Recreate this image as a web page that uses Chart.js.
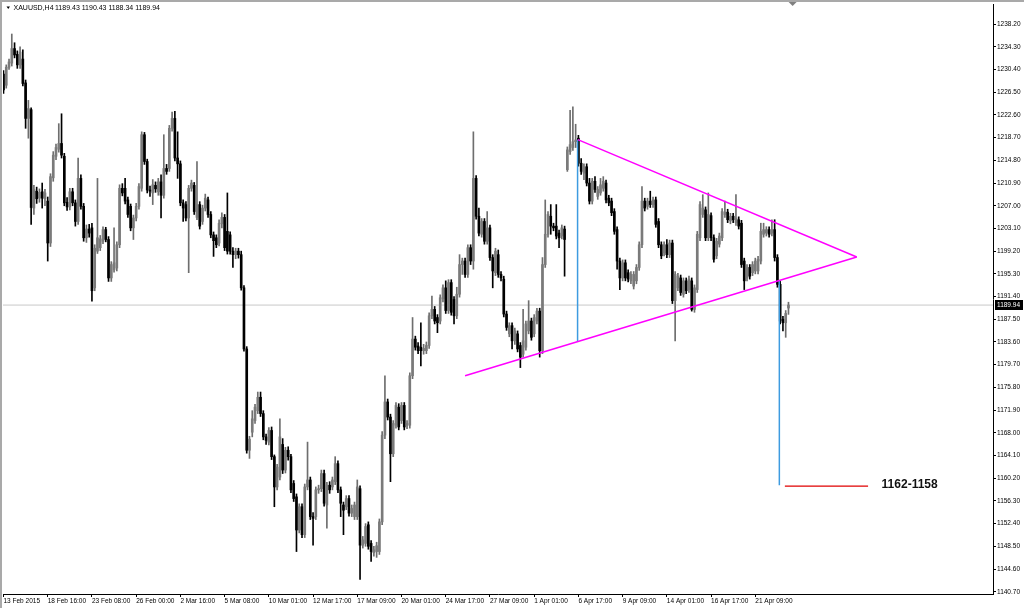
<!DOCTYPE html>
<html>
<head>
<meta charset="utf-8">
<style>
  html, body { margin: 0; padding: 0; background: #fff; overflow: hidden; }
  canvas { display: block; }
</style>
<script src="https://cdn.jsdelivr.net/npm/chart.js@4.4.1/dist/chart.umd.min.js"></script>
</head>
<body>
<canvas id="chart" width="1024" height="608"></canvas>
<script>
// XAUUSD H4 candles (bar 0 = 13 Feb 2015)
const symbol = 'XAUUSD,H4';

const opens = [
  1229.6, 1227.7, 1230.8, 1231.5, 1234.0, 1233.0, 1231.2, 1232.2, 1228.1, 1222.0,
  1223.5, 1206.6, 1209.5, 1208.3, 1209.4, 1208.2, 1207.8, 1200.6, 1211.8, 1215.5,
  1216.7, 1217.7, 1215.5, 1207.6, 1206.8, 1209.4, 1207.5, 1204.3, 1211.7, 1206.9,
  1201.5, 1203.0, 1203.2, 1192.9, 1199.2, 1199.8, 1200.9, 1202.9, 1201.2, 1194.6,
  1196.0, 1196.3, 1200.3, 1210.0, 1210.0, 1208.0, 1206.9, 1203.2, 1204.9, 1206.9,
  1210.0, 1219.2, 1214.6, 1209.7, 1209.2, 1210.5, 1209.4, 1211.1, 1208.8, 1213.4,
  1213.4, 1220.3, 1222.0, 1215.2, 1214.2, 1207.5, 1207.2, 1204.9, 1210.0, 1210.5,
  1205.0, 1207.2, 1204.3, 1206.6, 1208.0, 1205.5, 1202.0, 1201.5, 1200.6, 1203.9,
  1205.0, 1202.6, 1202.0, 1199.2, 1198.6, 1199.2, 1198.6, 1192.9, 1182.4, 1165.0,
  1168.1, 1170.1, 1171.8, 1174.1, 1171.3, 1167.3, 1166.4, 1168.4, 1163.9, 1158.7,
  1160.4, 1166.0, 1161.6, 1165.0, 1163.9, 1159.3, 1157.0, 1151.3, 1155.3, 1150.5,
  1158.7, 1159.9, 1153.6, 1153.6, 1158.2, 1158.4, 1161.0, 1155.6, 1159.0, 1158.7,
  1159.6, 1162.7, 1158.2, 1155.6, 1155.3, 1156.7, 1154.2, 1153.6, 1153.6, 1158.4,
  1148.7, 1149.0, 1152.2, 1149.0, 1147.4, 1147.6, 1147.6, 1152.7, 1167.6, 1173.3,
  1170.7, 1164.4, 1169.3, 1172.4, 1170.1, 1172.7, 1169.3, 1169.3, 1177.8, 1184.1,
  1182.9, 1182.7, 1182.1, 1182.1, 1183.0, 1188.1, 1189.2, 1187.8, 1187.2, 1191.0,
  1192.9, 1189.0, 1193.8, 1190.9, 1188.1, 1191.8, 1196.9, 1197.5, 1195.2, 1199.8,
  1197.5, 1211.7, 1205.2, 1202.1, 1204.3, 1200.9, 1203.2, 1198.1, 1195.5, 1198.6,
  1195.2, 1194.4, 1188.4, 1185.0, 1186.4, 1183.8, 1185.0, 1183.0, 1181.5, 1182.7,
  1185.5, 1187.2, 1185.0, 1187.2, 1188.9, 1182.1, 1196.9, 1202.1, 1205.2, 1203.5,
  1203.5, 1202.3, 1201.8, 1203.0, 1213.2, 1216.3, 1217.0, 1218.0, 1218.6, 1214.3,
  1212.6, 1213.7, 1210.9, 1207.8, 1211.2, 1208.6, 1209.2, 1210.0, 1210.9, 1208.3,
  1207.8, 1206.0, 1202.9, 1197.5, 1194.6, 1197.2, 1195.5, 1194.1, 1193.2, 1194.1,
  1196.4, 1200.3, 1207.8, 1206.9, 1207.8, 1207.2, 1208.0, 1204.3, 1200.3, 1198.9,
  1200.3, 1198.6, 1200.6, 1190.7, 1192.9, 1194.6, 1191.8, 1194.1, 1192.6, 1194.1,
  1189.2, 1192.6, 1201.5, 1205.5, 1206.3, 1201.5, 1205.3, 1201.5, 1198.4, 1200.4,
  1201.5, 1205.5, 1205.9, 1204.4, 1205.2, 1204.1, 1204.6, 1204.0, 1197.5, 1194.6,
  1196.4, 1195.5, 1195.8, 1195.8, 1197.5, 1202.1, 1202.3, 1202.9, 1202.3, 1202.9,
  1198.1, 1193.5, 1187.5, 1186.9, 1189.43
];

const highs = [
  1230.2, 1231.2, 1232.2, 1236.5, 1235.0, 1233.6, 1234.3, 1233.8, 1228.6, 1225.1,
  1223.8, 1210.5, 1210.2, 1209.9, 1210.9, 1209.8, 1208.5, 1212.5, 1216.3, 1217.6,
  1221.1, 1222.8, 1216.0, 1208.4, 1210.0, 1210.0, 1208.0, 1215.2, 1212.3, 1207.4,
  1203.7, 1203.8, 1204.0, 1200.3, 1211.7, 1201.9, 1203.4, 1203.3, 1201.7, 1197.4,
  1203.2, 1200.8, 1210.6, 1210.8, 1211.7, 1208.5, 1207.3, 1205.4, 1207.4, 1210.8,
  1219.7, 1219.6, 1215.0, 1210.4, 1211.5, 1211.1, 1211.7, 1212.3, 1219.2, 1214.1,
  1220.8, 1223.1, 1223.2, 1219.7, 1214.7, 1208.0, 1207.7, 1210.5, 1211.4, 1211.0,
  1214.6, 1207.7, 1207.1, 1209.0, 1208.5, 1206.0, 1202.5, 1202.0, 1204.6, 1205.8,
  1205.5, 1209.2, 1202.5, 1199.8, 1199.7, 1199.7, 1199.2, 1193.3, 1182.8, 1167.4,
  1171.8, 1172.9, 1175.0, 1175.0, 1171.8, 1167.8, 1168.9, 1169.0, 1164.2, 1162.6,
  1170.4, 1167.0, 1165.5, 1165.6, 1164.3, 1159.8, 1157.5, 1155.8, 1155.8, 1159.2,
  1166.4, 1160.4, 1154.3, 1158.7, 1159.0, 1161.6, 1161.6, 1159.5, 1159.6, 1160.4,
  1163.9, 1163.2, 1158.7, 1156.1, 1157.2, 1157.2, 1155.6, 1156.1, 1159.9, 1158.9,
  1150.2, 1152.4, 1152.7, 1149.5, 1148.5, 1149.2, 1153.2, 1168.2, 1177.8, 1173.8,
  1171.2, 1170.1, 1173.2, 1173.0, 1173.2, 1173.2, 1170.1, 1178.3, 1187.8, 1184.6,
  1183.5, 1186.9, 1183.2, 1183.6, 1188.6, 1191.5, 1189.7, 1188.3, 1191.7, 1193.4,
  1194.1, 1194.3, 1194.3, 1191.4, 1193.0, 1198.6, 1198.0, 1198.0, 1200.3, 1200.3,
  1219.7, 1212.2, 1206.6, 1204.8, 1204.8, 1206.0, 1203.7, 1198.6, 1199.7, 1199.4,
  1195.7, 1194.9, 1188.9, 1186.9, 1186.9, 1186.0, 1185.5, 1183.5, 1189.2, 1187.2,
  1190.7, 1187.7, 1188.3, 1189.4, 1189.4, 1198.1, 1208.0, 1206.0, 1207.2, 1204.0,
  1207.2, 1202.8, 1203.7, 1203.5, 1217.1, 1223.4, 1224.0, 1221.0, 1219.1, 1215.1,
  1214.2, 1214.2, 1211.7, 1211.7, 1212.0, 1210.3, 1211.7, 1212.0, 1211.4, 1208.8,
  1208.3, 1206.5, 1203.4, 1198.0, 1197.7, 1197.7, 1196.0, 1195.7, 1195.7, 1196.9,
  1200.8, 1210.3, 1208.3, 1208.3, 1209.5, 1208.5, 1208.5, 1204.8, 1200.8, 1200.8,
  1201.2, 1201.1, 1201.1, 1195.7, 1195.4, 1195.1, 1194.6, 1194.6, 1194.9, 1194.6,
  1193.4, 1202.6, 1207.7, 1208.9, 1206.8, 1209.2, 1205.8, 1202.0, 1201.4, 1202.3,
  1206.5, 1207.8, 1206.4, 1205.7, 1205.7, 1208.9, 1205.1, 1204.5, 1198.0, 1196.9,
  1196.9, 1197.4, 1198.0, 1198.3, 1204.0, 1204.0, 1203.4, 1203.4, 1204.6, 1204.6,
  1198.6, 1194.0, 1188.0, 1189.0, 1190.43
];

const lows = [
  1226.3, 1227.2, 1230.4, 1231.0, 1232.4, 1230.6, 1230.6, 1227.6, 1220.3, 1218.6,
  1203.8, 1205.5, 1207.4, 1207.6, 1206.6, 1207.0, 1197.5, 1200.0, 1211.2, 1214.9,
  1216.2, 1215.2, 1207.0, 1206.2, 1206.3, 1207.0, 1203.5, 1203.8, 1206.4, 1200.9,
  1200.7, 1201.6, 1190.6, 1192.4, 1198.8, 1199.3, 1200.5, 1200.8, 1194.0, 1194.0,
  1195.6, 1195.8, 1199.8, 1208.7, 1207.3, 1205.0, 1202.7, 1201.2, 1204.4, 1206.4,
  1209.5, 1214.1, 1209.2, 1208.6, 1207.2, 1209.3, 1208.8, 1204.9, 1208.3, 1212.4,
  1212.9, 1219.8, 1214.7, 1211.7, 1207.0, 1204.3, 1204.4, 1195.5, 1209.5, 1205.5,
  1204.6, 1203.0, 1203.8, 1206.1, 1205.0, 1201.5, 1198.3, 1199.8, 1200.1, 1203.2,
  1199.3, 1198.7, 1198.7, 1196.4, 1197.9, 1198.0, 1192.5, 1182.0, 1164.5, 1163.6,
  1167.3, 1169.6, 1171.3, 1170.8, 1166.8, 1166.0, 1165.9, 1163.4, 1155.3, 1158.2,
  1159.9, 1161.0, 1161.1, 1163.3, 1157.7, 1156.2, 1147.6, 1150.8, 1150.0, 1150.0,
  1158.2, 1153.1, 1148.7, 1153.1, 1157.6, 1157.9, 1155.4, 1151.6, 1157.6, 1158.2,
  1159.1, 1157.7, 1153.6, 1150.5, 1154.8, 1153.7, 1153.6, 1153.1, 1153.1, 1142.8,
  1148.2, 1148.5, 1148.0, 1145.9, 1146.8, 1146.6, 1147.1, 1152.2, 1167.0, 1170.2,
  1159.6, 1163.9, 1168.8, 1168.5, 1169.6, 1168.5, 1168.7, 1168.8, 1177.3, 1182.2,
  1181.6, 1179.5, 1181.5, 1181.6, 1182.5, 1187.6, 1186.7, 1185.2, 1186.7, 1190.5,
  1188.5, 1188.5, 1188.2, 1186.7, 1187.6, 1191.3, 1195.2, 1194.7, 1194.7, 1196.9,
  1196.1, 1204.7, 1201.8, 1201.6, 1200.4, 1200.4, 1197.6, 1192.9, 1195.0, 1194.7,
  1194.1, 1187.9, 1185.6, 1184.5, 1182.4, 1183.2, 1181.9, 1179.2, 1181.0, 1182.2,
  1185.0, 1183.9, 1184.5, 1186.7, 1181.0, 1181.6, 1196.4, 1201.6, 1202.1, 1202.7,
  1201.3, 1199.8, 1201.3, 1194.9, 1212.9, 1215.8, 1216.5, 1217.0, 1213.8, 1212.4,
  1211.5, 1210.4, 1207.3, 1207.3, 1209.3, 1208.1, 1208.8, 1209.5, 1207.5, 1207.0,
  1205.3, 1202.1, 1196.1, 1192.6, 1194.1, 1194.1, 1193.9, 1193.6, 1192.7, 1193.6,
  1195.9, 1199.8, 1206.1, 1206.4, 1206.7, 1206.7, 1203.3, 1199.8, 1197.9, 1198.4,
  1198.1, 1198.1, 1190.2, 1183.8, 1192.4, 1191.6, 1191.3, 1191.9, 1192.1, 1188.9,
  1188.7, 1192.1, 1201.0, 1205.0, 1201.0, 1201.0, 1201.0, 1197.3, 1197.9, 1199.9,
  1201.0, 1205.0, 1204.1, 1203.9, 1204.1, 1203.6, 1203.0, 1196.4, 1192.6, 1194.1,
  1194.4, 1195.0, 1195.3, 1195.3, 1197.0, 1201.6, 1201.8, 1201.6, 1201.8, 1197.5,
  1193.0, 1186.7, 1185.5, 1184.4, 1188.34
];

const closes = [
  1226.9, 1230.8, 1231.7, 1234.0, 1232.9, 1231.2, 1233.4, 1228.0, 1222.0, 1223.7,
  1206.7, 1209.8, 1208.2, 1209.3, 1208.3, 1209.2, 1200.6, 1212.0, 1215.7, 1217.0,
  1217.7, 1215.7, 1207.5, 1206.8, 1209.4, 1207.5, 1204.3, 1211.7, 1206.9, 1201.5,
  1203.0, 1202.3, 1192.4, 1199.7, 1201.5, 1201.3, 1202.9, 1201.2, 1194.6, 1196.9,
  1197.2, 1200.3, 1210.0, 1209.2, 1207.8, 1205.5, 1203.2, 1204.9, 1206.9, 1210.3,
  1219.2, 1214.6, 1209.7, 1209.5, 1210.6, 1209.9, 1211.1, 1208.8, 1213.4, 1212.9,
  1220.3, 1222.0, 1215.2, 1214.2, 1207.5, 1206.6, 1204.9, 1210.0, 1210.9, 1206.0,
  1207.2, 1203.5, 1206.6, 1208.3, 1205.5, 1202.0, 1201.0, 1200.3, 1204.0, 1205.0,
  1199.8, 1199.2, 1199.2, 1198.6, 1199.2, 1198.6, 1192.9, 1182.4, 1165.0, 1166.9,
  1170.4, 1172.4, 1174.1, 1171.3, 1167.3, 1166.7, 1168.4, 1163.9, 1158.7, 1162.1,
  1167.3, 1161.6, 1165.0, 1163.9, 1158.2, 1156.7, 1151.3, 1155.3, 1150.5, 1158.7,
  1159.9, 1153.6, 1153.3, 1158.2, 1158.4, 1161.0, 1155.9, 1159.0, 1158.2, 1159.9,
  1162.7, 1158.2, 1155.9, 1154.7, 1156.7, 1154.2, 1155.0, 1155.6, 1158.7, 1148.7,
  1149.6, 1151.9, 1148.5, 1147.6, 1147.9, 1148.6, 1152.7, 1167.6, 1173.3, 1170.7,
  1164.4, 1169.6, 1172.7, 1169.0, 1172.7, 1169.0, 1169.6, 1177.8, 1184.1, 1182.7,
  1182.1, 1182.1, 1182.5, 1183.0, 1188.1, 1189.2, 1187.2, 1186.9, 1191.2, 1192.9,
  1189.0, 1193.8, 1188.7, 1188.1, 1191.8, 1196.9, 1197.5, 1195.2, 1199.8, 1197.5,
  1211.7, 1205.2, 1202.3, 1204.3, 1200.9, 1203.2, 1198.1, 1195.8, 1199.2, 1195.2,
  1194.6, 1188.4, 1186.1, 1186.4, 1183.8, 1185.5, 1182.4, 1181.0, 1183.8, 1186.7,
  1187.2, 1184.4, 1187.8, 1188.9, 1182.1, 1196.9, 1202.1, 1205.5, 1203.5, 1203.2,
  1201.8, 1201.5, 1203.2, 1201.2, 1216.6, 1217.5, 1218.0, 1218.3, 1214.3, 1212.9,
  1213.7, 1210.9, 1207.8, 1211.2, 1209.8, 1209.8, 1210.6, 1211.2, 1208.0, 1207.5,
  1205.8, 1202.6, 1197.5, 1194.6, 1197.2, 1194.6, 1194.4, 1195.2, 1195.2, 1196.4,
  1200.3, 1207.8, 1206.6, 1207.8, 1207.2, 1208.0, 1203.8, 1200.3, 1198.4, 1200.3,
  1198.6, 1200.6, 1190.7, 1195.2, 1194.9, 1192.1, 1194.1, 1192.4, 1194.4, 1189.2,
  1192.9, 1202.1, 1207.2, 1206.6, 1201.5, 1205.5, 1201.5, 1197.8, 1200.9, 1201.8,
  1206.0, 1205.9, 1204.6, 1205.2, 1204.6, 1204.9, 1203.5, 1196.9, 1194.1, 1196.4,
  1194.9, 1196.9, 1197.5, 1197.8, 1202.6, 1202.9, 1202.9, 1202.1, 1202.9, 1198.1,
  1193.5, 1187.2, 1186.9, 1188.5, 1189.94
];

// time axis: one label every 16 bars
const timeLabels = [
  '13 Feb 2015', '18 Feb 16:00', '23 Feb 08:00', '26 Feb 00:00', '2 Mar 16:00',
  '5 Mar 08:00', '10 Mar 01:00', '12 Mar 17:00', '17 Mar 09:00', '20 Mar 01:00',
  '24 Mar 17:00', '27 Mar 09:00', '1 Apr 01:00', '6 Apr 17:00', '9 Apr 09:00',
  '14 Apr 01:00', '16 Apr 17:00', '21 Apr 09:00'
];
const barsPerLabel = 16;

const priceTicks = [
  1140.70, 1144.60, 1148.50, 1152.40, 1156.30, 1160.20, 1164.10, 1168.00, 1171.90,
  1175.80, 1179.70, 1183.60, 1187.50, 1191.40, 1195.30, 1199.20, 1203.10, 1207.00,
  1210.90, 1214.80, 1218.70, 1222.60, 1226.50, 1230.40, 1234.30, 1238.20
];

// drawn objects, as [bar index, price]
const upperTrend = [[207.8, 1218.35], [308.7, 1198.2]];
const lowerTrend = [[167.0, 1177.8], [308.7, 1198.2]];
const pole1 = [[207.7, 1183.66], [207.7, 1218.35]];
const pole2 = [[280.7, 1194.17], [280.7, 1159.0]];
const targetLine = [[282.7, 1158.85], [312.8, 1158.85]];
const targetText = '1162-1158';
const targetAt = [317.7, 1159.1];
const shiftAt = 285.5;

const xMin = -0.18, xMax = 358.0;
const yMin = 1140.31, yMax = 1241.5;

const lastClose = closes[closes.length - 1];
const bull = opens.map((o, i) => closes[i] >= o);
const pts = arr => arr.map(([x, y]) => ({ x, y }));
const smallFont = { family: 'Liberation Sans', size: 6.5 };

const overlay = {
  id: 'overlay',
  beforeDraw(chart) {
    const { ctx, width, height } = chart;
    ctx.save();
    ctx.fillStyle = '#ffffff';
    ctx.fillRect(0, 0, width, height);
    ctx.fillStyle = '#a9a9a9';
    ctx.fillRect(0, 0, width, 2);
    ctx.fillRect(0, 0, 2, height);
    ctx.restore();
  },
  afterDraw(chart) {
    const { ctx, chartArea, scales: { x, y } } = chart;
    ctx.save();
    // current price box on the axis
    const py = Math.round(y.getPixelForValue(lastClose));
    ctx.fillStyle = '#000';
    ctx.fillRect(chartArea.right + 2, py - 5, 28, 10);
    ctx.fillStyle = '#fff';
    ctx.font = '6.5px "Liberation Sans"';
    ctx.textBaseline = 'middle';
    ctx.fillText(lastClose.toFixed(2), chartArea.right + 4, py + 0.5);
    // target label
    ctx.fillStyle = '#111';
    ctx.font = 'bold 12px "Liberation Sans"';
    ctx.fillText(targetText, x.getPixelForValue(targetAt[0]), y.getPixelForValue(targetAt[1]));
    // header
    const n = opens.length - 1;
    ctx.fillStyle = '#000';
    ctx.beginPath();
    ctx.moveTo(6.5, 6.5); ctx.lineTo(10, 6.5); ctx.lineTo(8.25, 9);
    ctx.closePath(); ctx.fill();
    ctx.font = '7px "Liberation Sans"';
    ctx.fillText(symbol, 13.5, 8.5);
    ctx.fillText([opens[n], highs[n], lows[n], closes[n]].map(v => v.toFixed(2)).join(' '), 55, 8.5);
    // chart shift marker
    const sx = x.getPixelForValue(shiftAt);
    ctx.fillStyle = '#808080';
    ctx.beginPath();
    ctx.moveTo(sx - 4, 2); ctx.lineTo(sx + 4, 2); ctx.lineTo(sx, 6);
    ctx.closePath(); ctx.fill();
    ctx.restore();
  }
};

new Chart(document.getElementById('chart'), {
  type: 'bar',
  data: {
    datasets: [
      {
        label: 'bid',
        type: 'line',
        data: [{ x: xMin, y: lastClose }, { x: xMax, y: lastClose }],
        borderColor: '#c8c8c8',
        borderWidth: 1,
        pointRadius: 0,
        order: 5
      },
      {
        label: 'wick',
        data: opens.map((_, i) => ({ x: i, y: [lows[i], highs[i]] })),
        backgroundColor: bull.map(b => (b ? '#6e6e6e' : '#000000')),
        barThickness: 1,
        grouped: false,
        order: 4
      },
      {
        label: 'body',
        data: opens.map((o, i) => ({ x: i, y: [o, closes[i]] })),
        backgroundColor: bull.map(b => (b ? '#7a7a7a' : '#000000')),
        barThickness: 2,
        minBarLength: 1,
        grouped: false,
        order: 3
      },
      { label: 'upper', type: 'line', data: pts(upperTrend), borderColor: '#ff00ff', borderWidth: 1.5, pointRadius: 0, order: 1 },
      { label: 'lower', type: 'line', data: pts(lowerTrend), borderColor: '#ff00ff', borderWidth: 1.5, pointRadius: 0, order: 1 },
      { label: 'pole1', type: 'line', data: pts(pole1), borderColor: '#3d9be0', borderWidth: 1.5, pointRadius: 0, order: 1 },
      { label: 'pole2', type: 'line', data: pts(pole2), borderColor: '#3d9be0', borderWidth: 1.5, pointRadius: 0, order: 1 },
      { label: 'target', type: 'line', data: pts(targetLine), borderColor: '#e00000', borderWidth: 1.2, pointRadius: 0, order: 1 }
    ]
  },
  options: {
    responsive: false,
    animation: false,
    devicePixelRatio: 1,
    layout: { padding: { top: 3, left: 3, right: 0, bottom: 0 } },
    plugins: { legend: { display: false }, tooltip: { enabled: false } },
    scales: {
      x: {
        type: 'linear',
        min: xMin,
        max: xMax,
        offset: false,
        grid: { drawOnChartArea: false, drawTicks: true, tickLength: 3, color: '#000', offset: false },
        border: { display: true, color: '#000', width: 1 },
        afterBuildTicks: s => { s.ticks = timeLabels.map((_, k) => ({ value: k * barsPerLabel })); },
        afterFit: s => { s.height = 14; },
        ticks: {
          autoSkip: false,
          maxRotation: 0,
          minRotation: 0,
          align: 'start',
          padding: 0,
          color: '#000',
          font: smallFont,
          callback: v => timeLabels[Math.round(v / barsPerLabel)]
        }
      },
      y: {
        position: 'right',
        min: yMin,
        max: yMax,
        grid: { drawOnChartArea: false, drawTicks: true, tickLength: 3, color: '#000' },
        border: { display: true, color: '#000', width: 1 },
        afterBuildTicks: s => { s.ticks = priceTicks.map(v => ({ value: v })); },
        afterFit: s => { s.width = 31; },
        ticks: {
          autoSkip: false,
          padding: 1,
          color: '#000',
          font: smallFont,
          callback: v => v.toFixed(2)
        }
      }
    }
  },
  plugins: [overlay]
});
</script>
</body>
</html>
